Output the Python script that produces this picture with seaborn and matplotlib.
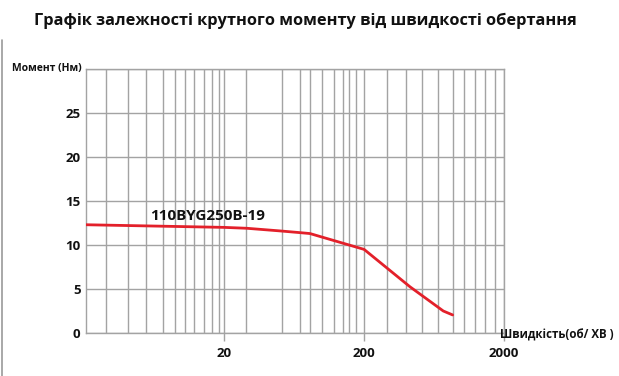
import matplotlib
matplotlib.use("Agg")
import matplotlib.pyplot as plt
from matplotlib.ticker import FixedLocator, NullFormatter
from matplotlib.lines import Line2D
import seaborn as sns
import pandas as pd

# ---- data ----
speed_rpm = [2.05, 20, 28.9, 50, 70, 82, 200, 426, 737, 860]
torque_nm = [12.3, 12.0, 11.9, 11.6, 11.4, 11.3, 9.5, 5.25, 2.5, 2.05]
series_name = "110BYG250B-19"

x_major_ticks = [20, 200, 2000]
x_tick_labels = ["20", "200", "2000"]
x_grid_values = [2.87, 4.10, 5.55, 7.30, 8.93, 10.4, 12.1, 14.2, 16.3, 18.2,
                 28.7, 52.1, 69.8, 82.3, 99.8, 122, 141, 156, 175,
                 290, 397, 522, 672, 860, 1041, 1241, 1463, 1725]
y_ticks = [0, 5, 10, 15, 20, 25, 30]
y_tick_labels = ["0", "5", "10", "15", "20", "25", ""]

title = "Графік залежності крутного моменту від швидкості обертання"
y_label = "Момент (Нм)"
x_label = "Швидкість(об/ ХВ )"

# ---- style ----
sns.set_theme(style="white")
plt.rcParams["font.family"] = ["Open Sans", "DejaVu Sans"]

df = pd.DataFrame({"speed": speed_rpm, "torque": torque_nm})

fig = plt.figure(figsize=(6.19, 3.76), dpi=100)
ax = fig.add_axes([0.139, 0.1144, 0.675, 0.7021])

grid_color = "#a3a3a3"
sns.lineplot(data=df, x="speed", y="torque", ax=ax, color="#e3202a",
             linewidth=2.0, zorder=5)

ax.set_xscale("log")
ax.set_xlim(2.05, 2000)
ax.set_ylim(0, 30)

ax.xaxis.set_major_locator(FixedLocator(x_major_ticks))
ax.set_xticklabels(x_tick_labels)
ax.xaxis.set_minor_locator(FixedLocator(x_grid_values))
ax.xaxis.set_minor_formatter(NullFormatter())
ax.set_yticks(y_ticks)
ax.set_yticklabels(y_tick_labels)

ax.grid(True, which="both", axis="x", color=grid_color, linewidth=1.0)
ax.grid(True, which="major", axis="y", color=grid_color, linewidth=1.0)
for s in ax.spines.values():
    s.set_color(grid_color)
    s.set_linewidth(1.0)

ax.tick_params(axis="x", which="major", length=6, width=1.0, color=grid_color,
               pad=4, labelsize=9.5, labelcolor="#111111", bottom=True)
ax.tick_params(axis="x", which="minor", length=0)
ax.tick_params(axis="y", length=0, pad=4, labelsize=9.5, labelcolor="#111111")
for lab in ax.get_xticklabels() + ax.get_yticklabels():
    lab.set_fontweight("bold")

ax.set_xlabel("")
ax.set_ylabel("")

ax.text(-0.01, 1.0, y_label, transform=ax.transAxes, ha="right", va="center",
        fontsize=7.5, fontweight="bold", color="#111111")
ax.text(0.99, -0.008, x_label, transform=ax.transAxes, ha="left", va="center",
        fontsize=8.3, fontweight="bold", color="#111111", clip_on=False)
ax.text(15.2, 13.3, series_name, ha="center", va="center", fontsize=11,
        fontweight="bold", color="#111111", zorder=6)

fig.text(0.494, 0.945, title, ha="center", va="center", fontsize=11.8,
         fontweight="bold", color="#111111")

fig.add_artist(Line2D([2 / 619, 2 / 619], [0, 0.894], transform=fig.transFigure,
                      color="#9a9a9a", linewidth=1.2))

fig.savefig("out.png", dpi=100, facecolor="white")
